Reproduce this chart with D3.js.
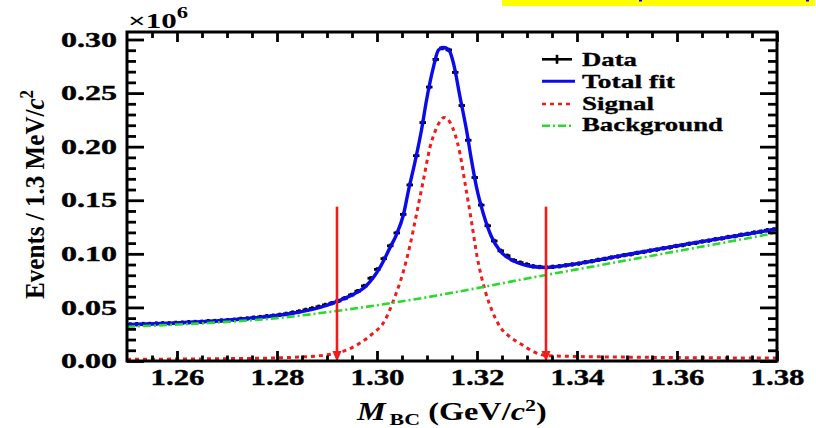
<!DOCTYPE html>
<html>
<head>
<meta charset="utf-8">
<script src="https://cdn.jsdelivr.net/npm/d3@7"></script>
<style>
  html, body { margin: 0; padding: 0; background: #fff; }
  svg { display: block; }
  text { font-family: "Liberation Serif", "Times New Roman", serif; font-weight: bold; }
</style>
</head>
<body>
<svg id="chart" width="816" height="428"></svg>
<script>
// ---- data (values in units of 10^6 events) ----
const binLow = 1.25, binWidth = 0.0013;
const dataY = [
  0.0341, 0.0344, 0.0345, 0.0346, 0.0350, 0.0352, 0.0352, 0.0356, 0.0358, 0.0362,
  0.0364, 0.0366, 0.0372, 0.0373, 0.0378, 0.0381, 0.0385, 0.0393, 0.0397, 0.0405,
  0.0410, 0.0418, 0.0423, 0.0431, 0.0440, 0.0452, 0.0463, 0.0477, 0.0491, 0.0506,
  0.0523, 0.0540, 0.0560, 0.0586, 0.0616, 0.0652, 0.0700, 0.0772, 0.0855, 0.0955,
  0.1075, 0.1195, 0.1368, 0.1643, 0.1916, 0.2225, 0.2556, 0.2814, 0.2920, 0.2903,
  0.2693, 0.2384, 0.2060, 0.1712, 0.1455, 0.1262, 0.1120, 0.1028, 0.0982, 0.0939,
  0.0918, 0.0901, 0.0884, 0.0877, 0.0874, 0.0879, 0.0884, 0.0893, 0.0901, 0.0909,
  0.0922, 0.0931, 0.0944, 0.0953, 0.0966, 0.0975, 0.0988, 0.0996, 0.1009, 0.1018,
  0.1030, 0.1039, 0.1052, 0.1060, 0.1073, 0.1081, 0.1094, 0.1102, 0.1115, 0.1123,
  0.1136, 0.1144, 0.1157, 0.1165, 0.1178, 0.1186, 0.1199, 0.1207, 0.1220, 0.1228
];
const dataErr = 0.002;

const totX = [1.250, 1.260, 1.270, 1.280, 1.2826, 1.290, 1.2919, 1.2950, 1.2979, 1.3006,
  1.3026, 1.3039, 1.3053, 1.3063, 1.3076, 1.3089, 1.3099, 1.3113, 1.3123, 1.3134,
  1.3145, 1.3153, 1.3166, 1.3179, 1.3189, 1.3199, 1.3213, 1.3229, 1.3246, 1.3273,
  1.3313, 1.3339, 1.3386, 1.3486, 1.3619, 1.3800];
const totY = [0.0340, 0.0355, 0.0380, 0.0425, 0.0441, 0.0520, 0.0555, 0.0615, 0.0704, 0.0873,
  0.1058, 0.1180, 0.1367, 0.1592, 0.1859, 0.2155, 0.2433, 0.2745, 0.2902, 0.2927,
  0.2892, 0.2777, 0.2465, 0.2155, 0.1874, 0.1622, 0.1370, 0.1160, 0.1028, 0.0935,
  0.0880, 0.0873, 0.0898, 0.0981, 0.1090, 0.1232];

const sigX = [1.250, 1.260, 1.270, 1.280, 1.285, 1.290, 1.2935, 1.2966, 1.2990, 1.3016,
  1.3033, 1.3053, 1.3066, 1.3079, 1.3093, 1.3106, 1.3116, 1.3126, 1.3134, 1.3146,
  1.3156, 1.3166, 1.3176, 1.3189, 1.3200, 1.3216, 1.3230, 1.3246, 1.3266, 1.3286,
  1.3310, 1.3338, 1.3400, 1.3500, 1.3600, 1.3700, 1.3800];
const sigY = [0.0015, 0.0018, 0.0022, 0.0029, 0.0038, 0.0058, 0.0095, 0.0167, 0.0250, 0.0380,
  0.0565, 0.0840, 0.1080, 0.1370, 0.1693, 0.1995, 0.2140, 0.2235, 0.2273, 0.2227,
  0.2116, 0.1934, 0.1662, 0.1300, 0.0980, 0.0660, 0.0470, 0.0320, 0.0225, 0.0164,
  0.0095, 0.0050, 0.0042, 0.0036, 0.0032, 0.0029, 0.0027];

const bkgX = [1.25, 1.26, 1.27, 1.28, 1.29, 1.30, 1.31, 1.32, 1.33, 1.34, 1.35, 1.36, 1.37, 1.38];
const bkgY = [0.032, 0.034, 0.0365, 0.040, 0.0455, 0.052, 0.0595, 0.068, 0.077, 0.0855, 0.094, 0.1025, 0.111, 0.1197];

const arrowX = [1.292, 1.3338];
const arrowTop = 0.144;

const xTicks = [1.26, 1.28, 1.30, 1.32, 1.34, 1.36, 1.38];
const xTickLabels = ["1.26", "1.28", "1.30", "1.32", "1.34", "1.36", "1.38"];
const yTicks = [0, 0.05, 0.10, 0.15, 0.20, 0.25, 0.30];
const yTickLabels = ["0.00", "0.05", "0.10", "0.15", "0.20", "0.25", "0.30"];
const legendLabels = ["Data", "Total fit", "Signal", "Background"];

// ---- setup ----
const svg = d3.select("#chart");
const x = d3.scaleLinear().domain([1.25, 1.38]).range([127, 777]);
const y = d3.scaleLinear().domain([0, 0.307]).range([361, 32]);

function notMajor(v, base, step) { return Math.abs((v - base) / step - Math.round((v - base) / step)) > 0.01; }
const xMinor = d3.range(1, 26).map(k => 1.25 + k * 0.005).filter(v => notMajor(v, 1.26, 0.02));
const yMinor = d3.range(1, 31).map(k => k * 0.01).filter(v => notMajor(v, 0, 0.05));

const col = { total: "#0b0bea", sig: "#f21a1a", bkg: "#2ada2a", arrow: "#ee1c1c" };

function fitText(t, w) {
  const cur = t.node().getComputedTextLength();
  t.attr("transform", "scale(" + (w / cur) + ",1)");
}

// yellow strip at top right (cut-off banner), only bits of its blue text show
svg.append("rect").attr("x", 502).attr("y", 0).attr("width", 313).attr("height", 6).attr("fill", "#ffff00");
svg.append("rect").attr("x", 639).attr("y", 0).attr("width", 3).attr("height", 1.5).attr("fill", "#0000ee");
svg.append("rect").attr("x", 806).attr("y", 0).attr("width", 3).attr("height", 1.5).attr("fill", "#0000ee");

// ---- data points ----
const pts = dataY.map((v, i) => ({ c: binLow + binWidth * (i + 0.5), v: v }));
const gData = svg.append("g").attr("stroke", "#000").attr("stroke-width", 2.8);
gData.selectAll("line.h").data(pts).enter().append("line").attr("class", "h")
  .attr("x1", d => x(d.c - binWidth / 2)).attr("x2", d => x(d.c + binWidth / 2))
  .attr("y1", d => y(d.v)).attr("y2", d => y(d.v));
gData.selectAll("line.v").data(pts).enter().append("line").attr("class", "v")
  .attr("x1", d => x(d.c)).attr("x2", d => x(d.c))
  .attr("y1", d => y(d.v - dataErr)).attr("y2", d => y(d.v + dataErr));

// ---- curves ----
const line = d3.line().x(d => x(d[0])).y(d => y(d[1])).curve(d3.curveMonotoneX);

svg.append("path").datum(d3.zip(totX, totY)).attr("d", line)
  .attr("fill", "none").attr("stroke", col.total).attr("stroke-width", 3.4);
svg.append("path").datum(d3.zip(sigX, sigY)).attr("d", line)
  .attr("fill", "none").attr("stroke", col.sig).attr("stroke-width", 3).attr("stroke-dasharray", "4,4");
svg.append("path").datum(d3.zip(bkgX, bkgY)).attr("d", line)
  .attr("fill", "none").attr("stroke", col.bkg).attr("stroke-width", 2.6).attr("stroke-dasharray", "8,3,2,3");

// ---- arrows ----
arrowX.forEach(a => {
  svg.append("line").attr("x1", x(a)).attr("x2", x(a)).attr("y1", y(arrowTop)).attr("y2", y(0) - 8)
    .attr("stroke", col.arrow).attr("stroke-width", 2.6);
  svg.append("path")
    .attr("d", `M${x(a) - 4.5},${y(0) - 10}L${x(a) + 4.5},${y(0) - 10}L${x(a)},${y(0) + 1}Z`)
    .attr("fill", col.arrow);
});

// ---- axes ----
function styleAxis(g) {
  g.select(".domain").remove();
  g.selectAll(".tick line").attr("stroke", "#000").attr("stroke-width", 2.8);
}
svg.append("g").attr("transform", "translate(127,0)")
  .call(d3.axisLeft(y).tickValues(yTicks).tickSizeInner(-17).tickSizeOuter(0).tickPadding(10)
    .tickFormat((d, i) => yTickLabels[i]))
  .call(styleAxis)
  .selectAll("text").attr("fill", "#000").attr("stroke", "#000").attr("stroke-width", 0.4)
  .style("font-size", "21px")
  .attr("textLength", 56).attr("lengthAdjust", "spacingAndGlyphs");
svg.append("g").attr("transform", "translate(127,0)")
  .call(d3.axisLeft(y).tickValues(yMinor).tickSize(-9).tickFormat(""))
  .call(styleAxis);
svg.append("g").attr("transform", "translate(777,0)")
  .call(d3.axisRight(y).tickValues(yTicks).tickSize(-17).tickFormat(""))
  .call(styleAxis);
svg.append("g").attr("transform", "translate(777,0)")
  .call(d3.axisRight(y).tickValues(yMinor).tickSize(-9).tickFormat(""))
  .call(styleAxis);

svg.append("g").attr("transform", "translate(0,361)")
  .call(d3.axisBottom(x).tickValues(xTicks).tickSizeInner(-10).tickSizeOuter(0).tickPadding(7)
    .tickFormat((d, i) => xTickLabels[i]))
  .call(styleAxis)
  .selectAll("text").attr("fill", "#000").attr("stroke", "#000").attr("stroke-width", 0.4)
  .style("font-size", "24px")
  .attr("textLength", 54).attr("lengthAdjust", "spacingAndGlyphs");
svg.append("g").attr("transform", "translate(0,361)")
  .call(d3.axisBottom(x).tickValues(xMinor).tickSize(-5.5).tickFormat(""))
  .call(styleAxis);
svg.append("g").attr("transform", "translate(0,32)")
  .call(d3.axisTop(x).tickValues(xTicks).tickSize(-10).tickFormat(""))
  .call(styleAxis);
svg.append("g").attr("transform", "translate(0,32)")
  .call(d3.axisTop(x).tickValues(xMinor).tickSize(-6).tickFormat(""))
  .call(styleAxis);

// frame
svg.append("rect").attr("x", 127).attr("y", 32).attr("width", 650).attr("height", 329)
  .attr("fill", "none").attr("stroke", "#000").attr("stroke-width", 3);

// ---- exponent ----
const ex = svg.append("g").attr("transform", "translate(128,28)")
  .append("text").attr("font-size", 22).style("font-weight", "600");
ex.append("tspan").text("\u00d710");
ex.append("tspan").attr("font-size", 16).attr("dy", -10).text("6");
fitText(ex, 60);

// ---- y title ----
const yt = svg.append("g").attr("transform", "translate(44,194.5) rotate(-90)")
  .append("text").attr("text-anchor", "middle").attr("font-size", 27);
yt.append("tspan").text("Events / 1.3 MeV/");
yt.append("tspan").attr("font-style", "italic").text("c");
yt.append("tspan").attr("font-size", 18).attr("dy", -11).text("2");
fitText(yt, 209);

// ---- x title ----
const xt = svg.append("g").attr("transform", "translate(357,420)")
  .append("text").attr("font-size", 25);
xt.append("tspan").attr("font-style", "italic").text("M");
xt.append("tspan").attr("font-size", 17).attr("dy", 5).attr("dx", 3).text("BC");
xt.append("tspan").attr("dy", -5).text(" (GeV/");
xt.append("tspan").attr("font-style", "italic").text("c");
xt.append("tspan").attr("font-size", 17).attr("dy", -9).text("2");
xt.append("tspan").attr("dy", 9).text(")");
fitText(xt, 186);

// ---- legend ----
const legRowY = [59.3, 81.3, 104, 125.7];
const legBase = [66, 87.5, 109.5, 131];
const legW = [55, 93, 72, 141];
const lg = svg.append("g");
lg.append("line").attr("x1", 542).attr("x2", 572).attr("y1", legRowY[0]).attr("y2", legRowY[0])
  .attr("stroke", "#000").attr("stroke-width", 2.6);
lg.append("line").attr("x1", 557).attr("x2", 557).attr("y1", legRowY[0] - 4.5).attr("y2", legRowY[0] + 4.5)
  .attr("stroke", "#000").attr("stroke-width", 2.6);
lg.append("line").attr("x1", 542).attr("x2", 575).attr("y1", legRowY[1]).attr("y2", legRowY[1])
  .attr("stroke", col.total).attr("stroke-width", 3);
lg.append("line").attr("x1", 542).attr("x2", 573).attr("y1", legRowY[2]).attr("y2", legRowY[2])
  .attr("stroke", col.sig).attr("stroke-width", 2.6).attr("stroke-dasharray", "4,4");
lg.append("line").attr("x1", 542).attr("x2", 573).attr("y1", legRowY[3]).attr("y2", legRowY[3])
  .attr("stroke", col.bkg).attr("stroke-width", 2.4).attr("stroke-dasharray", "8,3,2,3");
legendLabels.forEach((t, i) => {
  const tx = lg.append("g").attr("transform", `translate(582,${legBase[i]})`)
    .append("text").attr("font-size", 19).attr("stroke", "#000").attr("stroke-width", 0.3).text(t);
  fitText(tx, legW[i]);
});
</script>
</body>
</html>
